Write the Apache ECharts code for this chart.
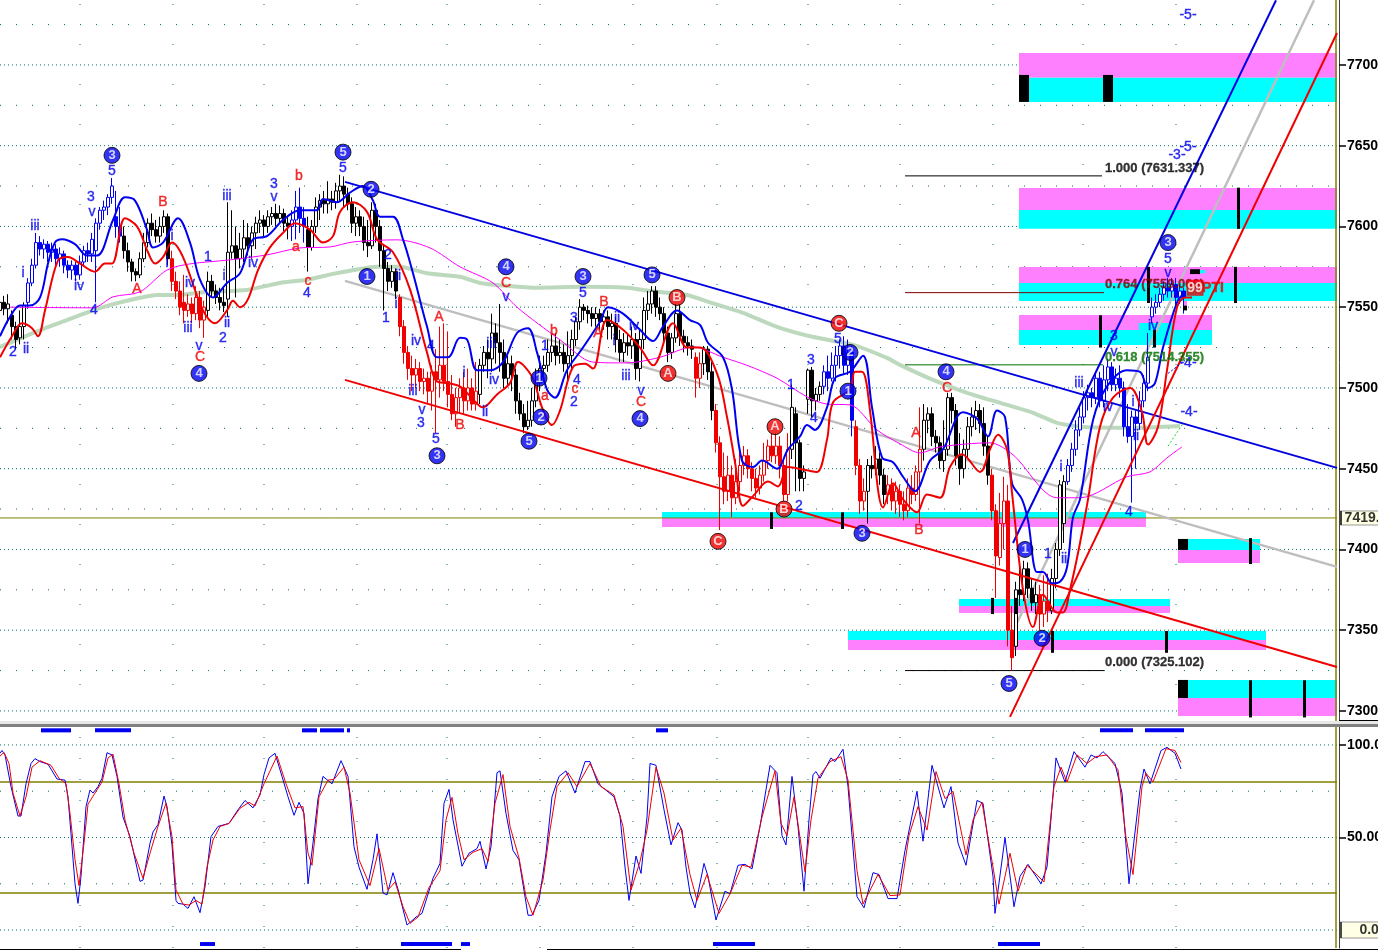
<!DOCTYPE html>
<html><head><meta charset="utf-8">
<style>html,body{margin:0;padding:0;background:#fff;overflow:hidden}#c{width:1378px;height:950px}</style>
<script src="https://cdn.jsdelivr.net/npm/echarts@6/dist/echarts.min.js"></script>
</head><body><div id="c"></div>
<script>
// ---- Candles: each segment is a flat list of open,close,low,high, one bar every 4 time units
const blk1=[7548,7553,7544,7556, 7553,7549,7545,7557, 7549,7552,7540,7558, 7545,7538,7530,7548, 7538,7530,7524,7541, 7531,7538,7527,7548, 7538,7551,7530,7553];
const blu1=[7553,7565,7549,7568, 7565,7576,7563,7580, 7576,7590,7574,7596, 7590,7586,7582,7594, 7586,7589,7580,7592, 7589,7584,7578,7591, 7584,7586,7578,7590, 7586,7580,7574,7589, 7580,7583,7575,7587, 7583,7576,7571,7585, 7576,7573,7568,7579, 7573,7576,7567,7579, 7576,7570,7566,7578, 7570,7578,7567,7582, 7578,7585,7575,7588, 7585,7583,7578,7590, 7583,7592,7578,7596, 7585,7602,7553,7605, 7602,7610,7598,7612, 7610,7612,7604,7616, 7612,7618,7607,7620, 7618,7625,7614,7630, 7606,7600,7593,7622, 7600,7594,7590,7612];
const blk2=[7594,7585,7580,7600, 7585,7578,7572,7590, 7578,7572,7566,7580, 7572,7570,7566,7574, 7570,7580,7568,7584, 7580,7590,7578,7596, 7590,7602,7587,7605, 7602,7598,7594,7608, 7598,7594,7590,7604, 7594,7600,7590,7606, 7600,7606,7596,7610, 7606,7580,7576,7608];
const red1=[7580,7566,7560,7585, 7566,7560,7555,7572, 7560,7550,7545,7566, 7553,7548,7540,7570, 7548,7552,7544,7558, 7552,7546,7540,7556, 7546,7556,7542,7563, 7556,7542,7537,7560, 7542,7550,7531,7554];
const blk3=[7548,7566,7544,7572, 7566,7560,7556,7570, 7560,7556,7552,7564, 7556,7553,7548,7562, 7553,7551,7547,7562, 7555,7584,7544,7615, 7584,7588,7580,7610, 7588,7580,7556,7600, 7580,7586,7574,7596, 7586,7593,7578,7604, 7593,7588,7582,7602, 7588,7596,7580,7600, 7596,7602,7586,7606, 7602,7604,7596,7610, 7604,7600,7594,7607, 7600,7606,7596,7610, 7606,7608,7601,7612, 7608,7605,7600,7614, 7605,7608,7602,7613, 7608,7602,7597,7611, 7602,7600,7592,7606];
const blu2=[7600,7604,7591,7610, 7604,7612,7592,7622, 7612,7605,7596,7624, 7605,7600,7590,7612];
const blk4=[7598,7587,7572,7606, 7587,7600,7585,7604, 7600,7612,7596,7618, 7612,7616,7604,7620, 7616,7614,7608,7622, 7614,7617,7608,7628, 7617,7615,7610,7622, 7615,7622,7611,7627, 7622,7625,7616,7632, 7625,7620,7612,7631, 7620,7614,7610,7624, 7614,7602,7596,7618, 7602,7606,7594,7612, 7606,7600,7594,7610, 7600,7590,7585,7606, 7590,7588,7581,7604, 7588,7610,7586,7615, 7610,7600,7590,7614, 7600,7585,7575,7604, 7585,7574,7548,7588, 7574,7566,7560,7578, 7566,7572,7562,7576, 7572,7560,7555,7574];
const red2=[7556,7538,7532,7558, 7538,7522,7515,7542, 7522,7512,7505,7526, 7512,7508,7498,7520, 7508,7512,7500,7518, 7512,7504,7498,7516, 7504,7506,7496,7512, 7506,7498,7490,7510, 7498,7510,7486,7514, 7510,7505,7472,7524, 7505,7514,7494,7538, 7514,7504,7498,7540, 7504,7496,7488,7535, 7496,7484,7480,7508, 7484,7494,7476,7500, 7494,7500,7484,7506, 7500,7492,7484,7510, 7492,7500,7486,7512, 7500,7490,7486,7506, 7490,7498,7486,7516];
const blk5=[7496,7514,7490,7518, 7514,7522,7510,7526, 7522,7518,7506,7530, 7518,7534,7510,7546, 7534,7528,7515,7540, 7528,7522,7510,7552, 7522,7506,7500,7530, 7506,7515,7502,7520, 7515,7508,7498,7520, 7508,7492,7484,7512, 7492,7484,7480,7497, 7484,7476,7472,7490, 7476,7480,7474,7492, 7480,7492,7476,7500, 7492,7503,7488,7512, 7503,7512,7498,7520, 7512,7514,7506,7520, 7514,7522,7510,7530, 7522,7526,7516,7533, 7526,7520,7514,7534, 7520,7522,7515,7530, 7522,7515,7510,7527, 7515,7520,7504,7535, 7520,7530,7512,7536, 7530,7541,7526,7544, 7541,7550,7536,7555, 7550,7548,7542,7552, 7548,7546,7540,7551, 7546,7543,7538,7550, 7543,7546,7538,7550, 7546,7541,7536,7549, 7541,7544,7536,7548, 7544,7538,7530,7548, 7538,7540,7530,7546, 7540,7530,7522,7544, 7530,7522,7516,7536, 7522,7528,7516,7534, 7528,7526,7520,7533, 7526,7530,7518,7538, 7530,7512,7505,7534, 7512,7530,7504,7536, 7530,7548,7524,7556, 7548,7552,7542,7560, 7552,7560,7546,7563, 7560,7550,7544,7563, 7550,7546,7542,7556, 7546,7534,7528,7550, 7534,7522,7516,7538, 7522,7531,7518,7534, 7531,7546,7528,7552, 7546,7532,7526,7552, 7532,7528,7522,7536, 7528,7526,7520,7532, 7526,7524,7518,7530];
const red3=[7519,7506,7494,7522, 7506,7515,7500,7522];
const blk6=[7515,7524,7508,7526, 7524,7510,7505,7526, 7510,7486,7480,7516];
const red4=[7486,7466,7460,7490, 7466,7445,7412,7470, 7445,7436,7428,7460, 7436,7446,7430,7458, 7446,7432,7420,7452, 7432,7442,7428,7456, 7442,7452,7436,7462, 7452,7458,7446,7464, 7458,7450,7444,7462, 7450,7444,7436,7454, 7444,7438,7432,7450, 7438,7446,7434,7452, 7446,7455,7442,7466, 7455,7464,7450,7468, 7464,7458,7454,7472, 7458,7464,7453,7472, 7464,7452,7444,7470, 7452,7434,7430,7456, 7434,7462,7430,7472];
const blk7=[7462,7488,7456,7502, 7484,7466,7436,7488, 7466,7444,7436,7468, 7444,7448,7436,7452, 7493,7511,7484,7512, 7511,7492,7482,7513, 7492,7496,7486,7500, 7496,7501,7492,7504];
const blu3=[7501,7510,7496,7514, 7510,7506,7498,7520, 7506,7514,7504,7522, 7514,7520,7504,7526, 7520,7526,7512,7530, 7526,7514,7508,7532, 7514,7522,7508,7530, 7522,7480,7470,7526];
const red5=[7476,7452,7446,7480, 7452,7430,7422,7456, 7430,7436,7424,7444];
const blk8=[7436,7452,7416,7456, 7452,7450,7444,7458, 7450,7456,7446,7464, 7456,7446,7440,7460, 7446,7434,7428,7450];
const red6=[7434,7440,7428,7446, 7440,7430,7424,7444, 7430,7436,7422,7442, 7436,7428,7420,7440, 7428,7424,7418,7436, 7424,7438,7420,7444, 7438,7434,7428,7446, 7434,7448,7430,7452, 7448,7462,7416,7488];
const blk9=[7462,7480,7455,7490, 7480,7484,7472,7488, 7484,7470,7464,7488, 7470,7466,7460,7474, 7466,7455,7450,7470, 7455,7462,7448,7480, 7462,7494,7458,7497, 7494,7486,7478,7497, 7486,7458,7452,7490, 7458,7450,7440,7472, 7450,7462,7444,7468, 7462,7476,7456,7482, 7476,7482,7470,7488, 7482,7486,7474,7492, 7486,7478,7472,7490, 7478,7464,7458,7488, 7464,7446,7440,7470];
const red7=[7446,7424,7418,7450, 7424,7396,7370,7428, 7395,7416,7390,7435, 7416,7430,7400,7445, 7430,7350,7340,7440, 7350,7333,7325,7365];
const blk10=[7340,7375,7334,7380, 7375,7372,7365,7390, 7372,7388,7368,7393, 7388,7376,7370,7392, 7376,7367,7362,7382, 7367,7372,7360,7380];
const red8=[7372,7360,7350,7378, 7360,7368,7352,7384, 7368,7362,7355,7385];
const blk11=[7362,7382,7360,7388, 7382,7400,7376,7404, 7400,7440,7396,7443, 7416,7442,7404,7446];
const blu4=[7442,7452,7440,7456, 7452,7462,7448,7466, 7462,7474,7458,7480, 7474,7482,7470,7488, 7482,7494,7478,7498, 7494,7497,7486,7502, 7497,7494,7488,7500, 7494,7506,7490,7510, 7506,7492,7488,7510, 7492,7505,7488,7514, 7505,7513,7498,7518, 7513,7502,7498,7516, 7502,7506,7498,7512, 7506,7500,7494,7514, 7500,7476,7470,7504, 7476,7470,7466,7490, 7470,7482,7429,7486, 7482,7478,7450,7486, 7478,7492,7474,7498, 7492,7503,7488,7508, 7503,7519,7498,7534, 7544,7550,7540,7556, 7550,7553,7546,7558, 7553,7558,7550,7562, 7558,7562,7554,7566, 7562,7560,7556,7568, 7560,7564,7556,7568, 7564,7556,7550,7568, 7556,7560,7552,7564, 7560,7556,7546,7562];
const segments=[[blk1,0,'k'],[blu1,28,'b'],[blk2,124,'k'],[red1,172,'r'],[blk3,208,'k'],[blu2,292,'b'],[blk4,308,'k'],[red2,400,'r'],[blk5,480,'k'],[red3,696,'r'],[blk6,704,'k'],[red4,716,'r'],[blk7,792,'k'],[blu3,824,'b'],[red5,856,'r'],[blk8,868,'k'],[red6,888,'r'],[blk9,924,'k'],[red7,992,'r'],[blk10,1016,'k'],[red8,1040,'r'],[blk11,1052,'k'],[blu4,1068,'b']];

// ---- Moving averages
const blueMA=[[0,7532],[10,7544],[20,7551],[30,7551],[40,7556],[48,7577],[55,7590],[62,7592],[75,7589],[87,7582],[97,7582],[113,7604],[125,7618],[135,7616],[147,7598],[153,7587],[163,7590],[178,7605],[190,7590],[200,7567],[213,7556],[227,7565],[240,7571],[253,7592],[267,7594],[283,7604],[300,7610],[317,7610],[323,7617],[337,7615],[350,7621],[363,7625],[373,7616],[380,7606],[393,7606],[403,7592],[413,7571],[427,7538],[437,7519],[448,7519],[460,7531],[467,7530],[477,7511],[490,7511],[503,7516],[517,7534],[528,7537],[537,7522],[547,7499],[555,7494],[567,7511],[583,7525],[600,7541],[608,7550],[623,7546],[640,7536],[653,7529],[663,7538],[677,7548],[690,7542],[700,7539],[708,7528],[723,7519],[732,7499],[742,7455],[753,7451],[762,7455],[777,7450],[788,7462],[800,7470],[807,7477],[815,7474],[827,7488],[835,7506],[850,7510],[863,7520],[872,7488],[882,7457],[893,7454],[903,7445],[915,7436],[930,7455],[943,7462],[963,7485],[977,7481],[988,7470],[997,7486],[1005,7482],[1012,7441],[1022,7431],[1028,7418],[1037,7386],[1043,7386],[1052,7379],[1060,7380],[1067,7389],[1073,7420],[1080,7431],[1093,7480],[1107,7501],[1127,7511],[1140,7510],[1148,7500],[1155,7503],[1163,7525],[1177,7553],[1183,7558]];
const redMA=[[0,7519],[12,7532],[22,7540],[32,7537],[38,7532],[45,7548],[58,7579],[68,7581],[80,7577],[95,7572],[105,7577],[112,7577],[125,7605],[137,7600],[148,7584],[155,7577],[163,7581],[172,7590],[183,7581],[203,7548],[215,7540],[227,7548],[233,7554],[240,7550],[248,7555],[258,7573],[270,7587],[283,7596],[295,7602],[310,7598],[323,7590],[333,7594],[340,7609],[353,7615],[367,7609],[377,7592],[393,7584],[410,7561],[427,7522],[437,7504],[448,7503],[460,7501],[470,7495],[483,7488],[497,7496],[510,7503],[518,7516],[532,7507],[542,7488],[552,7477],[560,7486],[573,7513],[585,7515],[593,7512],[607,7542],[623,7536],[640,7525],[653,7514],[673,7540],[687,7525],[700,7525],[717,7509],[727,7482],[735,7454],[743,7427],[753,7433],[768,7442],[778,7439],[788,7451],[807,7449],[817,7448],[827,7468],[833,7491],[850,7499],[855,7510],[862,7510],[870,7486],[878,7437],[883,7426],[893,7441],[903,7431],[917,7423],[927,7434],[940,7432],[950,7451],[962,7459],[980,7448],[990,7462],[998,7471],[1007,7462],[1012,7435],[1023,7375],[1033,7352],[1043,7372],[1057,7361],[1063,7361],[1070,7375],[1080,7404],[1088,7431],[1100,7476],[1113,7494],[1130,7500],[1142,7485],[1148,7465],[1158,7476],[1167,7511],[1177,7550],[1185,7556],[1192,7556]];
const greenMA=[[0,7525.4],[33,7534],[67,7542],[93,7548],[120,7553],[157,7557.6],[180,7557.6],[207,7559.5],[247,7560.7],[280,7565],[307,7567],[333,7570.6],[360,7573.7],[377,7575],[400,7575],[427,7571],[460,7568.8],[480,7565],[537,7562],[583,7562.6],[627,7562],[650,7560],[687,7557.6],[710,7553],[743,7546.5],[777,7537.8],[810,7532],[853,7526.7],[887,7518.6],[900,7514.3],[933,7505],[967,7497],[1000,7490.8],[1033,7484.6],[1057,7478.4],[1080,7476],[1133,7475.3],[1180,7476.5]];
const magentaMA=[[10,7550],[93,7549.6],[113,7556.4],[140,7559.5],[167,7573],[190,7576.8],[230,7579.3],[267,7582.4],[300,7586.7],[330,7587.3],[353,7590.4],[397,7591.7],[430,7586.7],[460,7575],[493,7565],[517,7550],[560,7529.8],[593,7516],[627,7515.5],[660,7519],[693,7525.4],[723,7519],[747,7514],[777,7506],[807,7494.5],[827,7490],[850,7489.5],[877,7474],[900,7465.4],[920,7459.8],[940,7463.5],[990,7466],[1013,7458.6],[1057,7432],[1080,7432],[1127,7445],[1150,7448],[1167,7456.7],[1182,7463.5]];

// ---- Trend lines
const channelBlue=[[345,7627.6],[1337,7450.5]];
const channelGray=[[345,7566.3],[1337,7389.2]];
const channelRed=[[345,7505],[1337,7327.2]];
const riseBlue=[[1013,7404],[1276,7740]];
const riseGray=[[1015,7352],[1314,7740]];
const riseRed=[[1010,7296.3],[1337,7719.8]];
const forecastGreen=[[1168,7464],[1183,7478]];
const forecastBlue=[[1168,7509],[1185,7517]];
const fib100=[[905,7631.3],[1102,7631.3]];
const fib764=[[905,7559],[1104,7559]];
const fib618=[[905,7514.3],[1103,7514.3]];
const fib000=[[905,7325],[1104,7325]];
const lastPrice=[[0,7419.5],[1337,7419.5]];

// ---- Zones: from, to, price, price
const zoneMagenta=[[1019,1337,7707.4,7692],[1019,1337,7623.8,7610.2],[1019,1337,7574.9,7565],[1019,1212,7545.2,7535.9],[662,1146,7419.5,7413.9],[959,1170,7365,7360.7],[848,1266,7344,7337.8],[1178,1260,7399.7,7391.6],[1178,1337,7308,7296.9],[1183,1187,7554,7551]];
const zoneCyan=[[1019,1337,7692,7677.1],[1019,1337,7610.2,7598.5],[1019,1337,7565,7553.9],[1019,1212,7535.9,7526.6],[1139,1174,7540.2,7535.9],[662,1146,7423.2,7419.5],[959,1170,7369.3,7365],[848,1266,7349.5,7344],[1178,1260,7406.5,7399.7],[1178,1337,7319.2,7308],[1200,1205,7573,7571]];
const zoneBlack=[[1019,1029,7693.8,7677.1],[1103,1113,7693.8,7677.1],[1178,1188,7406.5,7399.7],[1178,1188,7319.2,7308],[1237,1240,7624,7598.5],[1147,1150,7575,7552.6],[1234,1237,7575,7552.6],[1099,1102,7545,7525],[1153,1156,7536,7525],[770,773,7423,7412.7],[841,844,7423,7412.7],[991,994,7370,7360],[1015,1018,7370,7360],[1051,1054,7349.5,7336],[1165,1168,7349.5,7336],[1249,1252,7407,7391],[1249,1252,7319,7296],[1303,1306,7319,7296],[1190,1200,7573.5,7570.5],[1183,1187,7551,7548]];

// ---- Wave labels: text, time, price
const blueText=[['2',13,7522],['ii',26,7524],['i',23,7571],['iii',35,7600],['iv',79,7563],['4',94,7548],['3',91,7618],['v',92,7609],['5',112,7634],['1',208,7581],['i',172,7594],['i',167,7577],['iv',190,7565],['iii',188,7537],['v',199,7526],['ii',227,7540],['2',223,7531],['i',224,7569],['iii',227,7619],['iv',253,7577],['3',274,7626],['v',274,7618],['4',307,7559],['5',343,7636],['1',386,7543],['2',388,7582],['ii',398,7569],['i',396,7552],['iv',416,7529],['4',431,7526],['iii',413,7498],['v',422,7486],['3',421,7478],['5',436,7468],['i',464,7509],['iii',491,7527],['iv',494,7505],['ii',485,7485],['v',506,7556],['1',545,7526],['3',574,7543],['5',583,7559],['2',574,7491],['4',577,7505],['ii',617,7543],['i',614,7529],['iv',634,7538],['iii',626,7507],['v',641,7498],['5',838,7530],['3',811,7517],['4',814,7481],['1',791,7502],['2',799,7427],['3',1114,7532],['v',1114,7522],['iii',1079,7503],['iv',1108,7488],['i',1133,7491],['ii',1136,7470],['i',1061,7451],['4',1129,7423],['iv',1153,7538],['5',1168,7580],['v',1168,7571],['-4-',1189,7485],['-4-',1188,7515.5],['-5-',1188,7731],['-5-',1188,7649],['-3-',1177,7644],['1',1048,7397],['ii',1064,7394]];
const redText=[['A',137,7561],['B',163,7615],['C',200,7519],['b',299,7631],['a',296,7587],['c',308,7566],['A',439,7544],['B',460,7477],['C',506,7565],['b',554,7535],['a',545,7495],['c',575,7499],['A',598,7534],['B',604,7553],['C',641,7491],['A',916,7472],['B',919,7412],['C',947,7500]];
const blueCircles=[['3',112,7644],['5',343,7646],['2',371,7623],['1',367,7569],['4',199,7509],['3',437,7458],['4',506,7575],['3',583,7569],['5',652,7570],['1',539,7506],['2',541,7482],['5',529,7467],['4',640,7481],['2',850,7522],['1',848,7498],['3',862,7410],['4',946,7510],['1',1025,7400],['2',1042,7345],['5',1009,7317],['3',1168,7590]];
const redCircles=[['B',677,7556],['A',668,7509],['C',839,7540],['A',775,7476],['B',784,7425],['C',718,7405]];
const fibText=[['1.000 (7631.337)',1105,7636,'#000000'],['0.764 (7559.066)',1105,7564,'#800000'],['0.618 (7514.355)',1105,7519,'#007000'],['0.000 (7325.102)',1105,7330,'#000000']];

// ---- Axes
const priceTicks=[7700,7650,7600,7550,7500,7450,7400,7350,7300];
const priceMinor=[7725,7675,7625,7575,7525,7475,7425,7375,7325];
const stochTicks=[100,50,0];
const stochMinor=[75,25];
const timeGrid=[80,173,264,357,447,540,633,717,808,900,993,1083,1176];

// ---- Stochastic
const stochBlue=[[0,95.5],[2,97],[5,94.6],[11,77.5],[18,61.6],[21,61.6],[26,79],[31,90],[35,92.6],[40,91],[48,89.6],[57,81.6],[65,81],[68,72],[71,52],[75,25],[78,14.4],[81,29],[86,66.7],[90,75.7],[93,74],[98,77.5],[102,82],[107,95.8],[112,94.6],[117,83],[123,61],[130,50.5],[140,26.3],[143,27],[150,46.8],[153,53],[158,57],[164,72.4],[167,66.7],[172,46],[176,16],[178,14.4],[183,14],[188,11.7],[194,18],[200,9.4],[205,23.4],[211,50.5],[218,56],[229,57.6],[238,65],[245,70],[253,66],[260,73],[264,84],[269,93],[275,95.5],[282,83],[288,72],[294,62],[299,69],[304,63],[308,25],[313,47],[318,71],[323,83],[332,79],[341,91.5],[348,83],[354,45],[359,34],[367,22],[373,38],[377,52],[383,20],[387,19],[393,31],[398,22],[407,2.7],[416,7],[422,9],[433,28],[440,36],[444,68.5],[449,76],[453,59.5],[462,34.5],[469,41.5],[477,44],[480,48],[486,33],[491,45],[497,85],[500,86],[506,63],[513,43],[519,38],[528,8],[532,8],[539,16],[546,41.5],[552,72],[559,83],[566,86],[575,74],[585,91],[590,91],[598,79],[605,76],[614,72],[620,61.6],[625,34],[629,16],[636,40],[641,30.6],[647,61],[650,90],[656,89],[664,65],[671,46],[678,58],[682,54],[686,34],[690,20],[695,12],[704,36],[708,29],[716,5.4],[725,21],[730,19.5],[738,35],[745,35.5],[752,33],[760,56],[770,89],[777,85],[782,51],[786,46],[792,83],[798,56],[804,21],[809,59.5],[813,84],[816,85.6],[820,82],[831,93],[835,91],[843,97.7],[848,77.5],[857,18],[864,12],[873,31],[879,30],[888,17],[897,17],[905,43],[917,75],[923,48],[932,89],[944,66],[951,77.5],[958,47],[966,35],[977,70],[983,68.5],[993,29],[995,9],[1005,50],[1014,12.6],[1020,29],[1028,35.5],[1041,25],[1047,34],[1056,93],[1065,80],[1074,96.4],[1085,88],[1091,94.6],[1097,93],[1103,96.4],[1115,90],[1122,74],[1129,25],[1130,24],[1140,76],[1144,87],[1150,79],[1161,97],[1167,98.7],[1175,95.5],[1181,87]];
const stochRed=[[0,94],[4,96],[9,90],[13,74],[20,61.6],[26,72],[32,88],[40,91.5],[51,89],[59,82],[66,79],[70,63],[75,38],[79,24],[84,47],[88,68],[95,74],[102,80],[108,93],[113,95],[119,79],[125,59.5],[134,41.5],[143,28],[150,41.5],[158,56],[166,68.5],[172,50.5],[176,21.6],[183,14],[189,13.5],[196,16],[202,14],[207,34],[213,48.6],[220,56],[229,57.6],[240,65.8],[249,69],[255,67],[264,79],[277,94],[286,79],[295,66],[303,66.7],[308,41.5],[312,35],[319,72],[328,81],[334,81.4],[344,88],[350,74],[359,38],[370,24],[379,44],[388,21.6],[395,26],[403,12.6],[410,3.6],[418,7],[429,23],[440,32],[446,59.5],[452,71.7],[458,52],[464,38],[473,42],[482,44],[488,37],[495,68.5],[503,84],[510,56],[519,39],[526,18],[533,8],[543,27],[550,54],[557,77.5],[568,85],[577,77.5],[590,90],[601,77.5],[614,73],[623,56],[631,21.6],[640,37],[647,54],[656,88],[664,74],[673,48.6],[681,55],[690,30],[697,16],[707,30],[719,9],[730,19.5],[742,35],[751,34],[762,61],[775,86],[781,57.6],[787,51],[794,72],[805,31.5],[811,59.5],[818,82],[830,91],[841,93.7],[848,81],[857,32],[863,14],[878,30],[890,18.6],[900,19],[909,51],[918,66.7],[927,54],[936,85.6],[945,71],[953,75],[966,40.5],[973,59.5],[982,69],[993,34],[999,14],[1010,41.5],[1018,21],[1027,35],[1044,26],[1054,77.5],[1061,88],[1067,80],[1077,94.6],[1087,90],[1096,93.7],[1107,94.6],[1118,86.5],[1126,50],[1133,30],[1142,77.5],[1146,84.7],[1153,80],[1166,98],[1175,97],[1181,90.5]];
const stochBarsTop=[[41,71,109,106.8],[95,131,109,106.8],[302,317,109,106.8],[320,344,109,106.8],[347,350,109,106.8],[656,668,109,106.8],[1100,1133,109,106.8],[1145,1184,109,106.8]];
const stochBarsBottom=[[200,215,-6.5,-8.6],[401,452,-6.5,-8.6],[461,470,-6.5,-8.6],[713,755,-6.5,-8.6],[998,1040,-6.5,-8.6]];
const overbought=[[0,80],[1337,80]];
const oversold=[[0,20],[1337,20]];

// ---- Builders
const FONT='"Liberation Sans",Arial,sans-serif';
const TEAL='#007070';
const COL={k:'#000000',b:'#0000F0',r:'#F00000'};
function candleSeries(kind){
  const data=[];
  segments.filter(s=>s[2]===kind).forEach(s=>{
    for(let i=0;i<s[0].length;i+=4){data.push([s[1]+i,s[0][i],s[0][i+1],s[0][i+2],s[0][i+3]]);}
  });
  return {type:'candlestick',data,barWidth:3,z:3,xAxisIndex:0,yAxisIndex:0,
    itemStyle:{color:'#ffffff',color0:COL[kind],borderColor:COL[kind],borderColor0:COL[kind],borderWidth:1}};
}
function line(data,color,width,z,extra){
  return Object.assign({type:'line',data,showSymbol:false,symbol:'none',silent:true,z,xAxisIndex:0,yAxisIndex:0,
    lineStyle:{color,width,cap:'butt'},clip:false},extra||{});
}
function rects(rows,fill,z,ax){
  return {type:'custom',data:rows,z,xAxisIndex:ax,yAxisIndex:ax,encode:{x:[0,1],y:[2,3]},silent:true,clip:true,
    renderItem(p,api){
      const a=api.coord([api.value(0),api.value(2)]),b=api.coord([api.value(1),api.value(3)]);
      return {type:'rect',shape:{x:a[0],y:a[1],width:b[0]-a[0],height:b[1]-a[1]},style:{fill}};
    }};
}
function texts(rows,color,size,weight){
  return {type:'scatter',symbolSize:1,z:7,silent:true,xAxisIndex:0,yAxisIndex:0,itemStyle:{color:'rgba(0,0,0,0)'},
    data:rows.map(r=>({value:[r[1],r[2]],name:r[0]})),
    label:{show:true,position:'inside',formatter:'{b}',color,fontFamily:FONT,fontSize:size,fontWeight:weight,textBorderColor:color,textBorderWidth:0.4}};
}
function circles(rows,fill){
  return {type:'scatter',symbol:'circle',symbolSize:16,z:8,silent:true,xAxisIndex:0,yAxisIndex:0,
    itemStyle:{color:fill,borderColor:'#000',borderWidth:1},
    data:rows.map(r=>({value:[r[1],r[2]],name:r[0]})),
    label:{show:true,position:'inside',formatter:'{b}',color:'#fff',fontFamily:FONT,fontSize:13,fontWeight:'bold'}};
}
function breaks(pairs){const out=[];pairs.forEach(p=>{out.push(p[0],p[1],['-','-']);});return out;}
function hGrid(vals,dash,ax){
  return {type:'line',data:breaks(vals.map(v=>[[0,v],[1337,v]])),showSymbol:false,symbol:'none',silent:true,z:1,
    xAxisIndex:ax,yAxisIndex:ax,lineStyle:{color:TEAL,width:1,type:dash}};
}
function vGrid(lo,hi,dash,ax){
  return {type:'line',data:breaks(timeGrid.map(t=>[[t,lo],[t,hi]])),showSymbol:false,symbol:'none',silent:true,z:1,
    xAxisIndex:ax,yAxisIndex:ax,lineStyle:{color:TEAL,width:1,type:dash}};
}
function minorTicks(vals,ax){
  return {type:'line',data:breaks(vals.map(v=>[[1339,v],[1343,v]])),showSymbol:false,symbol:'none',silent:true,z:3,clip:false,
    xAxisIndex:ax,yAxisIndex:ax,lineStyle:{color:'#000',width:1}};
}
function yAxis(gridIndex,min,max,labels,fmt){
  return {type:'value',gridIndex,position:'right',offset:2,min,max,scale:true,
    axisLine:{show:true,onZero:false,lineStyle:{color:'#404040',width:1}},
    splitLine:{show:false},minorTick:{show:false},
    axisTick:{show:true,length:7,customValues:labels,lineStyle:{color:'#000',width:1.5}},
    axisLabel:{show:true,customValues:labels,formatter:fmt,margin:8,color:'#000',fontFamily:FONT,fontSize:14,fontWeight:'bold',hideOverlap:false,showMinLabel:true,showMaxLabel:true}};
}

const PMIN=7291.3,PMAX=7740.2,SMIN=-9.7,SMAX=109.7;
const option={
  animation:false,backgroundColor:'#ffffff',
  grid:[{left:0,top:0,width:1337,height:725,outerBoundsMode:'none',containLabel:false},{left:0,top:727,width:1337,height:221,outerBoundsMode:'none',containLabel:false}],
  xAxis:[{type:'value',gridIndex:0,min:0,max:1337,show:false},{type:'value',gridIndex:1,min:0,max:1337,show:false}],
  yAxis:[
    yAxis(0,PMIN,PMAX,priceTicks,v=>v.toFixed(1)),
    yAxis(1,SMIN,SMAX,stochTicks.slice(0,2),v=>v===100?'100.0':'50.00')
  ],
  graphic:[
    {type:'rect',shape:{x:0,y:721,width:1378,height:3},style:{fill:'#e8e8e8'},z:20},
    {type:'rect',shape:{x:0,y:724,width:1378,height:3},style:{fill:'#808080'},z:20},
    {type:'rect',shape:{x:0,y:949,width:461,height:1},style:{fill:'#000'},z:20},
    {type:'rect',shape:{x:547,y:949,width:831,height:1},style:{fill:'#000'},z:20},
    {type:'rect',shape:{x:1339,y:720,width:39,height:1},style:{fill:'#000'},z:20}
  ],
  series:[
    hGrid(priceTicks,[1,3],0), hGrid(priceMinor,[1,15],0), vGrid(PMIN,PMAX,[1,39],0),
    hGrid(stochTicks,[1,3],1), hGrid(stochMinor,[1,15],1), vGrid(SMIN,SMAX,[1,20],1),
    minorTicks(priceMinor,0), minorTicks(stochMinor,1),
    rects(zoneMagenta,'#FF80FF',2,0), rects(zoneCyan,'#00FFFF',2,0),
    line(greenMA,'#BDD9BD',4,3,{smooth:0.2}),
    line(lastPrice,'#808000',1,3),
    line([[1336,PMIN],[1336,PMAX]],'#808000',1.5,3),
    line(channelGray,'#BEBEBE',2.5,3), line(riseGray,'#BEBEBE',2.5,3),
    line(fib100,'#000000',1,3), line(fib764,'#800000',1,3), line(fib618,'#007000',1,3), line(fib000,'#000000',1,3),
    candleSeries('k'), candleSeries('b'), candleSeries('r'),
    line(magentaMA,'#FF00FF',1,4,{smooth:0.3}),
    line(channelBlue,'#0000E0',2,5), line(riseBlue,'#0000E0',2,5),
    line(channelRed,'#F00000',2,5), line(riseRed,'#F00000',2,5),
    line(forecastGreen,'#22CC22',1,5,{lineStyle:{color:'#22CC22',width:1,type:[2,2]}}),
    line(forecastBlue,'#0000E0',1,5,{lineStyle:{color:'#0000E0',width:1,type:[2,2]}}),
    line(blueMA,'#0000F0',2,5,{smooth:0.35}),
    line(redMA,'#F00000',2,5,{smooth:0.35}),
    rects(zoneBlack,'#000000',6,0),
    texts(blueText,'#0000F0',14,'normal'),
    texts(redText,'#F00000',14,'normal'),
    circles(blueCircles,'#0000F0'),
    circles(redCircles,'#F00000'),
    {type:'scatter',symbolSize:0,z:9,silent:true,clip:false,xAxisIndex:0,yAxisIndex:0,
      data:fibText.map(r=>({value:[r[1],r[2]],name:r[0],label:{color:r[3],textBorderColor:r[3],textBorderWidth:0.3}})),
      label:{show:true,position:'right',distance:0,formatter:'{b}',fontFamily:FONT,fontSize:13,fontWeight:'bold'}},
    {type:'scatter',symbol:'rect',symbolSize:[17,16],z:10,silent:true,xAxisIndex:0,yAxisIndex:0,
      itemStyle:{color:'#F00000'},data:[{value:[1195,7562],name:'99'}],
      label:{show:true,position:'inside',formatter:'{b}',color:'#fff',fontFamily:FONT,fontSize:14,fontWeight:'bold'}},
    texts([['PTI',1213,7562]],'#F00000',14,'bold'),
    {type:'scatter',symbol:'rect',symbolSize:[50,14],z:10,silent:true,clip:false,xAxisIndex:0,yAxisIndex:0,
      itemStyle:{color:'#FFFFE0',borderColor:'#000',borderWidth:1},data:[{value:[1366,7419.5],name:'7419.5'}],
      label:{show:true,position:'inside',formatter:'{b}',color:'#000',fontFamily:FONT,fontSize:14,fontWeight:'bold'}},
    {type:'scatter',symbol:'rect',symbolSize:[50,16],z:10,silent:true,clip:false,xAxisIndex:1,yAxisIndex:1,
      itemStyle:{color:'#FFFFE0',borderColor:'#000',borderWidth:1},data:[{value:[1366,0],name:'0.00'}],
      label:{show:true,position:'inside',offset:[7,0],formatter:'{b}',color:'#000',fontFamily:FONT,fontSize:14,fontWeight:'bold'}},
    // lower panel
    line(overbought,'#808000',1.5,3,{xAxisIndex:1,yAxisIndex:1}),
    line(oversold,'#808000',1.5,3,{xAxisIndex:1,yAxisIndex:1}),
    line([[1336,SMIN],[1336,SMAX]],'#808000',1.5,3,{xAxisIndex:1,yAxisIndex:1}),
    line(stochBlue,'#0000F0',1,4,{xAxisIndex:1,yAxisIndex:1}),
    line(stochRed,'#F00000',1,5,{xAxisIndex:1,yAxisIndex:1}),
    rects(stochBarsTop,'#0000F0',6,1), rects(stochBarsBottom,'#0000F0',6,1)
  ]
};
echarts.init(document.getElementById('c'),null,{renderer:'canvas'}).setOption(option);
</script></body></html>
